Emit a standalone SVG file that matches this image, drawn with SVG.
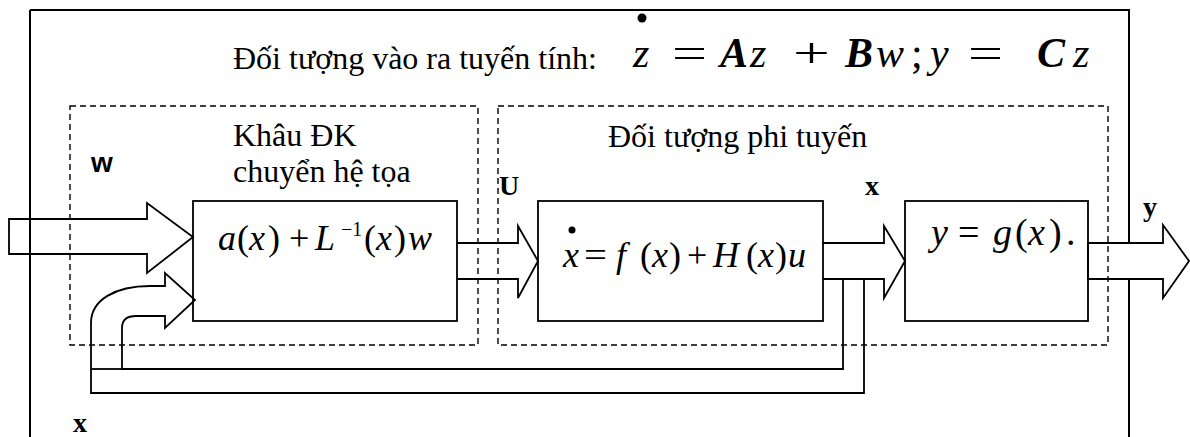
<svg xmlns="http://www.w3.org/2000/svg" width="1190" height="437" viewBox="0 0 1190 437">
<style>
.ln{fill:none;stroke:#000;stroke-width:1.8}
.wf{fill:#fff;stroke:#000;stroke-width:1.8}
.ds{fill:none;stroke:#000;stroke-width:1.4;stroke-dasharray:6 4}
.tx{font-family:"Liberation Serif","Times New Roman",serif;font-size:32px;fill:#000}
.mi{font-family:"Liberation Serif","Times New Roman",serif;font-style:italic;font-size:42px;fill:#000}
.mb{font-family:"Liberation Serif","Times New Roman",serif;font-style:italic;font-weight:bold;font-size:42px;fill:#000}
.mo{font-family:"Liberation Serif","Times New Roman",serif;font-size:42px;fill:#000}
.ei{font-family:"Liberation Serif","Times New Roman",serif;font-style:italic;font-size:36px;fill:#000}
.er{font-family:"Liberation Serif","Times New Roman",serif;font-size:36px;fill:#000}
.lb{font-family:"Liberation Serif","Times New Roman",serif;font-weight:bold;font-size:28px;fill:#000}
.la{font-family:"Liberation Sans",Arial,sans-serif;font-weight:bold;font-size:28px;fill:#000}
</style>

<g id="outer-frame">
<path class="ln" d="M1129,437 L1129,10 L30,10" style="stroke-width:2"/>
</g>

<g id="connectors">
<path class="wf" d="M1088,243 L1163,243 L1163,225 L1189,261 L1163,298 L1163,279 L1088,279 Z"/>
<path class="ln" d="M9,219 L147,219 L147,203 L193,237 L147,273 L147,254 L9,254 Z"/>
<path class="ln" d="M457,243 L518,243 L518,226 L538,261 L518,298 L518,279 L457,279"/>
<path class="ln" d="M823,243 L884,243 L884,226 L905,261 L884,298 L884,279 L823,279"/>
<path class="ln" d="M864,279 L864,393 L91,393 L91,323 C91,300 115,286 150,286 L165,286 L165,273 L195,300 L165,328 L165,316 L136,316 C127,316 122,320 122,328 L122,369 L843,369 L843,279"/>
<path class="ln" d="M91,369 L122,369"/>
</g>

<path class="ln" d="M30,10 L30,437" style="stroke-width:2"/>

<g id="group-controller">
<rect class="ds" x="70" y="106" width="408" height="239"/>
<text class="tx" x="233" y="146">Khâu ĐK</text>
<text class="tx" x="233" y="182">chuyển hệ tọa</text>
</g>

<g id="group-plant">
<rect class="ds" x="498" y="106" width="610" height="239"/>
<text class="tx" x="608" y="147">Đối tượng phi tuyến</text>
</g>

<g id="title">
<text class="tx" x="233" y="69">Đối tượng vào ra tuyến tính:</text>
<circle cx="642" cy="18" r="4.5" fill="#000"/>
<text class="mi" x="633" y="67">z</text>
<text class="mo" x="672" y="67" textLength="35" lengthAdjust="spacingAndGlyphs">=</text>
<text class="mb" x="720" y="67">A</text>
<text class="mi" x="750" y="67">z</text>
<text class="mo" x="793" y="67" textLength="37" lengthAdjust="spacingAndGlyphs">+</text>
<text class="mb" x="845" y="67">B</text>
<text class="mi" x="876" y="67">w</text>
<text class="mo" x="911" y="67">;</text>
<text class="mi" x="930" y="67">y</text>
<text class="mo" x="968" y="67" textLength="35" lengthAdjust="spacingAndGlyphs">=</text>
<text class="mb" x="1037" y="67">C</text>
<text class="mi" x="1073" y="67">z</text>
</g>

<g id="block-controller">
<rect class="ln" x="193" y="201" width="264" height="120"/>
<text x="218" y="250"><tspan class="ei">a</tspan><tspan class="er" x="237">(</tspan><tspan class="ei" x="249">x</tspan><tspan class="er" x="268">)</tspan><tspan class="er" x="289">+</tspan><tspan class="ei" x="315">L</tspan><tspan class="er" x="341" y="236" style="font-size:20px">−1</tspan><tspan class="er" x="364" y="250">(</tspan><tspan class="ei" x="376">x</tspan><tspan class="er" x="394">)</tspan><tspan class="ei" x="408">w</tspan></text>
</g>

<g id="block-plant">
<rect class="ln" x="538" y="201" width="285" height="120"/>
<circle cx="572" cy="230" r="3.5" fill="#000"/>
<text x="563" y="267"><tspan class="ei">x</tspan><tspan class="er" x="584" textLength="23" lengthAdjust="spacingAndGlyphs">=</tspan><tspan class="ei" x="616">f</tspan><tspan class="er" x="640">(</tspan><tspan class="ei" x="652">x</tspan><tspan class="er" x="669">)</tspan><tspan class="er" x="687">+</tspan><tspan class="ei" x="713">H</tspan><tspan class="er" x="746">(</tspan><tspan class="ei" x="758">x</tspan><tspan class="er" x="775">)</tspan><tspan class="ei" x="788">u</tspan></text>
</g>

<g id="block-output">
<rect class="ln" x="905" y="201" width="183" height="120"/>
<text x="931" y="245"><tspan class="ei" style="font-size:38px">y</tspan><tspan class="er" x="958" style="font-size:38px">=</tspan><tspan class="ei" x="993" style="font-size:38px">g</tspan><tspan class="er" x="1015" style="font-size:38px">(</tspan><tspan class="ei" x="1028" style="font-size:38px">x</tspan><tspan class="er" x="1049" style="font-size:38px">)</tspan><tspan class="er" x="1066" style="font-size:38px">.</tspan></text>
</g>

<g id="labels">
<text class="la" x="91" y="172">w</text>
<text class="lb" x="499" y="195">U</text>
<text class="lb" x="865" y="195">x</text>
<text class="lb" x="1143" y="216">y</text>
<text class="lb" x="73" y="432">x</text>
</g>
</svg>
